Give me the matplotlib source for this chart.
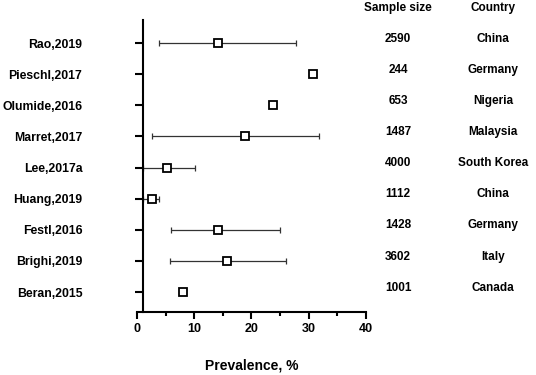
import matplotlib
matplotlib.use("Agg")
import matplotlib.pyplot as plt
from matplotlib.ticker import MultipleLocator

plt.rcParams['font.family'] = ['Liberation Sans', 'DejaVu Sans']
plt.rcParams['font.weight'] = 'bold'

studies = ["Rao,2019", "Pieschl,2017", "Olumide,2016", "Marret,2017", "Lee,2017a",
           "Huang,2019", "Festl,2016", "Brighi,2019", "Beran,2015"]
prevalence = [14.2, 30.8, 23.7, 18.9, 5.2, 2.6, 14.2, 15.7, 8.0]
ci_low = [3.9, None, None, 2.7, 1.0, 1.0, 5.9, 5.8, None]
ci_high = [27.8, None, None, 31.8, 10.1, 3.85, 24.9, 26.0, None]
sample_size = ["2590", "244", "653", "1487", "4000", "1112", "1428", "3602", "1001"]
country = ["China", "Germany", "Nigeria", "Malaysia", "South Korea", "China",
           "Germany", "Italy", "Canada"]

n = len(studies)
ypos = list(range(n, 0, -1))

fig = plt.figure(figsize=(5.36, 3.75), dpi=100)
ax = fig.add_axes([137/536, 63/375, 229/536, 292/375])

# spines first (set_position resets the ticks)
ax.spines['top'].set_visible(False)
ax.spines['right'].set_visible(False)
ax.spines['left'].set_position(('data', 1))
ax.spines['left'].set_linewidth(1.5)
ax.spines['bottom'].set_linewidth(1.5)

#error bars
for i in range(n):
    if ci_low[i] is not None:
        ax.errorbar(prevalence[i], ypos[i],
                    xerr=[[prevalence[i] - ci_low[i]], [ci_high[i] - prevalence[i]]],
                    fmt='none', ecolor='#333333', elinewidth=0.9, capsize=2.4,
                    capthick=0.9, zorder=2, clip_on=False)
ax.plot(prevalence, ypos, 's', ms=5.2, mfc='white', mec='black', mew=1.3,
        zorder=3, clip_on=False)

ax.set_xlim(0, 40)
ax.set_ylim(0.36, 9.74)
ax.set_yticks(ypos)
ax.set_yticklabels(studies)
ax.xaxis.set_major_locator(MultipleLocator(10))
ax.xaxis.set_minor_locator(MultipleLocator(5))
ax.tick_params(axis='x', which='major', length=5, width=1.5, labelsize=9, pad=3)
ax.tick_params(axis='x', which='minor', length=3, width=1.5)
ax.tick_params(axis='y', length=5.5, width=1.5, pad=38, labelsize=8.8)

ax.set_xlabel("Prevalence, %", fontsize=10, fontweight='bold', labelpad=17)

# side columns
off = 0.14
ax.text(45.6, 10 + off, "Sample size", ha='center', va='center', fontsize=8.5,
        fontweight='bold', clip_on=False)
ax.text(62.2, 10 + off, "Country", ha='center', va='center', fontsize=8.5,
        fontweight='bold', clip_on=False)
for i in range(n):
    ax.text(45.6, ypos[i] + off, sample_size[i], ha='center', va='center',
            fontsize=8.5, fontweight='bold', clip_on=False)
    ax.text(62.2, ypos[i] + off, country[i], ha='center', va='center',
            fontsize=8.5, fontweight='bold', clip_on=False)

fig.savefig("out.png", dpi=100)
